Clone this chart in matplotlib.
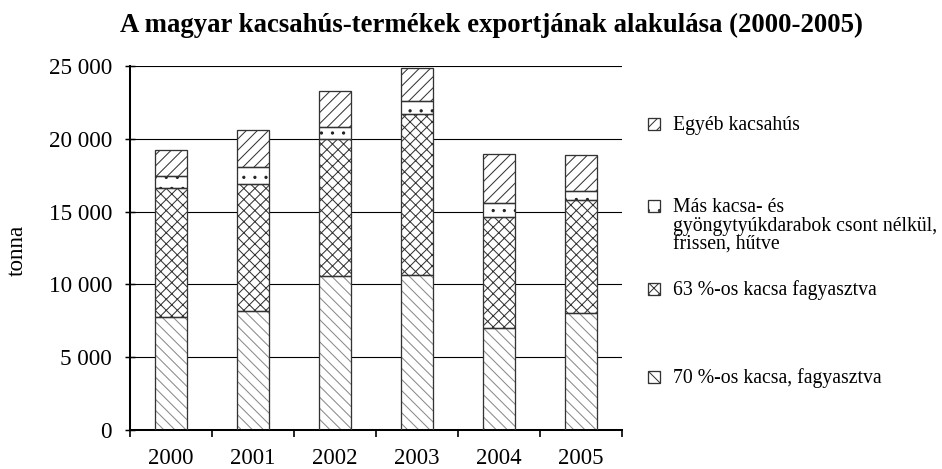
import numpy as np
import matplotlib.pyplot as plt
from matplotlib.patches import Rectangle
from matplotlib.ticker import FuncFormatter, FixedLocator

years = ['2000', '2001', '2002', '2003', '2004', '2005']
kacsa_70 = [7740, 8200, 10580, 10650, 6980, 8010]
kacsa_63 = [8880, 8670, 9380, 11050, 7670, 7760]
mas_darab = [830, 1170, 830, 900, 920, 640]
egyeb = [1780, 2590, 2510, 2240, 3390, 2450]

labels = ['Egyéb kacsahús',
          'Más kacsa- és\ngyöngytyúkdarabok csont nélkül,\nfrissen, hűtve',
          '63 %-os kacsa fagyasztva',
          '70 %-os kacsa, fagyasztva']

DPI = 133
plt.rcParams['font.family'] = ['Liberation Serif', 'DejaVu Serif']
plt.rcParams['hatch.linewidth'] = 0.55

fig = plt.figure(figsize=(942 / DPI, 469 / DPI), dpi=DPI)
ax = fig.add_axes([130 / 942, 1 - 430 / 469, 492 / 942, 364 / 469])

x = np.arange(len(years))
w = 0.4
series = [kacsa_70, kacsa_63, mas_darab, egyeb]
hatches = ['\\\\\\\\', 'xxxx', '..', '////']
hatch_cols = ['#888888', '#333333', '#222222', '#333333']
bottom = np.zeros(len(years))
for vals, h, hc in zip(series, hatches, hatch_cols):
    vals = np.array(vals)
    # hatch layer then outline on top
    ax.bar(x, vals, w, bottom=bottom, color='white', edgecolor=hc, hatch=h, linewidth=0, zorder=2)
    ax.bar(x, vals, w, bottom=bottom, fill=False, edgecolor='#333333', linewidth=0.7, zorder=3)
    bottom += vals

ax.set_xlim(-0.5, 5.5)
ax.set_ylim(0, 25000)
ax.set_yticks(range(0, 25001, 5000))
ax.yaxis.set_major_formatter(FuncFormatter(lambda v, p: f'{int(v):,}'.replace(',', ' ')))
ax.grid(axis='y', color='black', linewidth=0.6, zorder=0)
ax.set_axisbelow(True)
ax.set_xticks(x)
ax.set_xticklabels(years)
ax.xaxis.set_minor_locator(FixedLocator(np.arange(-0.5, 6, 1)))
ax.tick_params(axis='x', which='major', length=0, pad=9.5, labelsize=12.3)
ax.tick_params(axis='x', which='minor', length=4, width=0.9, direction='out')
ax.tick_params(axis='y', length=5.5, width=0.8, direction='inout', pad=7, labelsize=12.5)
for s in ['top', 'right']:
    ax.spines[s].set_visible(False)
for s in ['left', 'bottom']:
    ax.spines[s].set_linewidth(1.1)

fig.text(17 / 942, 1 - 250 / 469, 'tonna', rotation=90, ha='center', va='center', fontsize=12.5)
fig.text(491 / 942, 1 - 25 / 469, 'A magyar kacsahús-termékek exportjának alakulása (2000-2005)',
         ha='center', va='center', fontsize=14.5, fontweight='bold')

# legend drawn by hand, entries are not evenly spaced
leg_y = [130, 212, 295, 383]   # bottom edge of each key square, pixels from top
leg_h = ['////', '..', 'xxxx', '\\\\\\\\']
for yy, lab, h in zip(leg_y, labels, leg_h):
    fig.patches.append(Rectangle((648 / 942, 1 - yy / 469), 12 / 942, 12 / 469,
                                 transform=fig.transFigure, facecolor='white', edgecolor='#333333',
                                 hatch=h, linewidth=0.7))
    for i, line in enumerate(lab.split('\n')):
        fig.text(673 / 942, 1 - (yy + 19 * i) / 469, line, ha='left', va='baseline', fontsize=10.7)

plt.savefig('out.png', dpi=DPI)
